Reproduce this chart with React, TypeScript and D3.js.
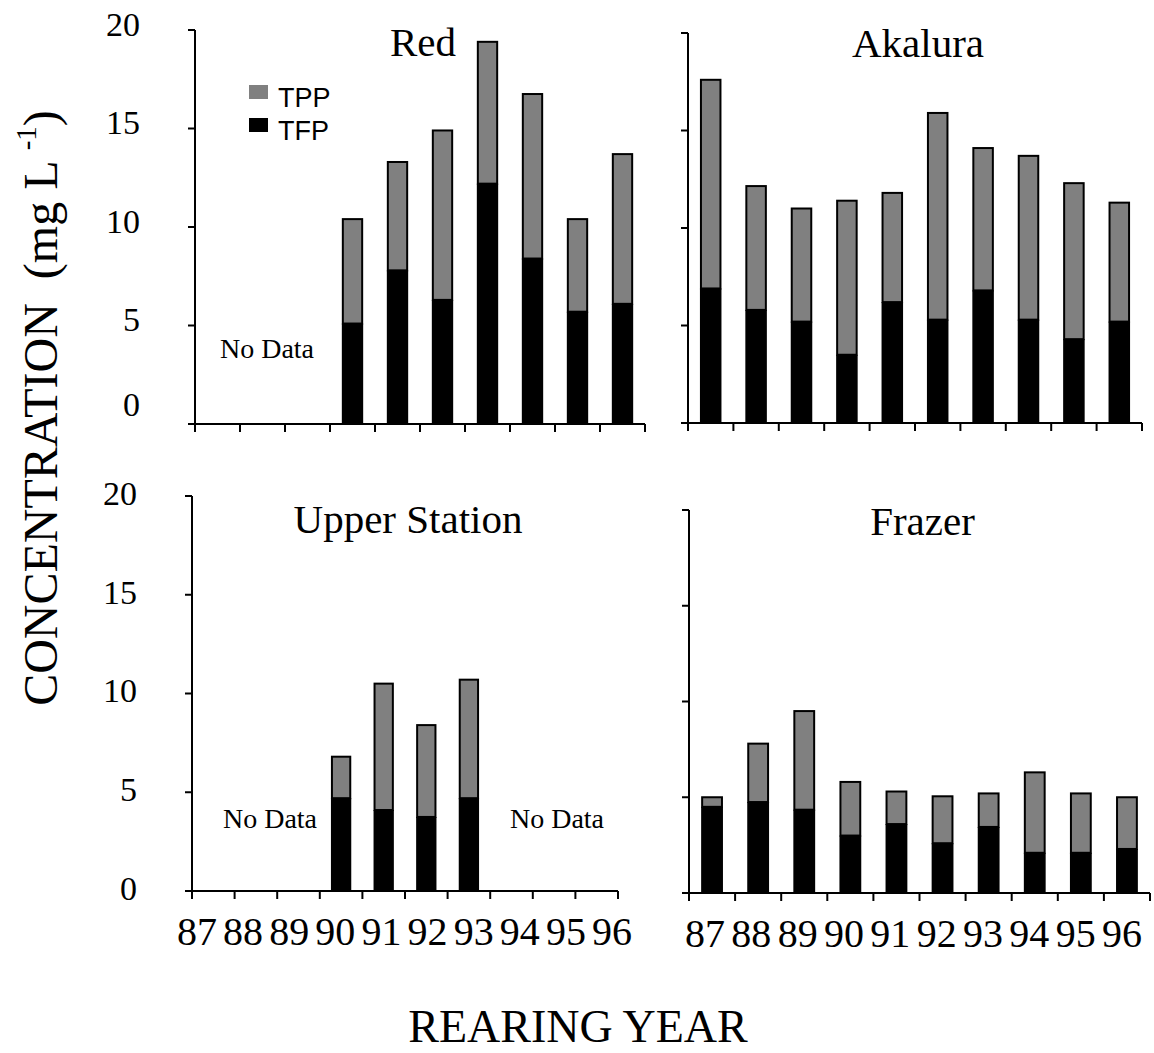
import React from "react";
import * as d3 from "d3";

const years = ["87", "88", "89", "90", "91", "92", "93", "94", "95", "96"];
const yTicks = [0, 5, 10, 15, 20];

// TFP = dissolved part (black), TPP = particulate part (grey) stacked on top
const redTFP = [null, null, null, 5.1, 7.8, 6.3, 12.2, 8.4, 5.7, 6.1];
const redTPP = [null, null, null, 5.3, 5.5, 8.6, 7.2, 8.35, 4.7, 7.6];

const akaluraTFP = [6.9, 5.8, 5.2, 3.5, 6.2, 5.3, 6.8, 5.3, 4.3, 5.2];
const akaluraTPP = [10.7, 6.35, 5.8, 7.9, 5.6, 10.6, 7.3, 8.4, 8.0, 6.1];

const upperTFP = [null, null, null, 4.7, 4.1, 3.75, 4.7, null, null, null];
const upperTPP = [null, null, null, 2.1, 6.4, 4.65, 6.0, null, null, null];

const frazerTFP = [4.5, 4.75, 4.35, 3.0, 3.6, 2.6, 3.45, 2.1, 2.1, 2.3];
const frazerTPP = [0.5, 3.05, 5.15, 2.8, 1.7, 2.45, 1.75, 4.2, 3.1, 2.7];

const SERIF = "'Liberation Serif', 'Times New Roman', serif";
const SANS = "'Liberation Sans', Arial, sans-serif";
const GREY = "#808080";

interface PanelProps {
  title: string;
  titleY: number;
  tfp: (number | null)[];
  tpp: (number | null)[];
  x0: number;
  x1: number;
  yTop: number;
  yBot: number;
  yLabels?: boolean;
  yLabelShift?: number;
  zeroShift?: number;
  xLabelRange?: [number, number];
  noData?: { x: number; y: number }[];
}

const Panel: React.FC<PanelProps> = ({
  title,
  titleY,
  tfp,
  tpp,
  x0,
  x1,
  yTop,
  yBot,
  yLabels = false,
  yLabelShift = 0,
  zeroShift = 0,
  xLabelRange,
  noData = [],
}) => {
  const x = d3
    .scaleBand()
    .domain(years)
    .range([x0, x1])
    .paddingInner(0.57)
    .paddingOuter(0.285);
  const y = d3.scaleLinear().domain([0, 20]).range([yBot, yTop]);
  const step = x.step();
  const tickXs = d3.range(years.length + 1).map((i) => x0 + i * step);
  const lx = xLabelRange
    ? d3.scalePoint().domain(years).range(xLabelRange)
    : null;

  return (
    <g>
      {/* bars */}
      {years.map((yr, i) => {
        const a = tfp[i];
        const b = tpp[i];
        if (a == null || b == null) return null;
        const bx = x(yr) || 0;
        const w = x.bandwidth();
        return (
          <g key={yr}>
            <rect
              x={bx}
              y={y(a + b)}
              width={w}
              height={y(a) - y(a + b)}
              fill={GREY}
              stroke="#000"
              strokeWidth={2}
            />
            <rect x={bx - 1} y={y(a)} width={w + 2} height={yBot - y(a)} fill="#000" />
          </g>
        );
      })}
      {/* y axis */}
      <line x1={x0} x2={x0} y1={yTop} y2={yBot} stroke="#000" strokeWidth={2} />
      {yTicks.map((t) => (
        <line key={t} x1={x0 - 7} x2={x0} y1={y(t)} y2={y(t)} stroke="#000" strokeWidth={2} />
      ))}
      {yLabels &&
        yTicks.map((t) => (
          <text
            key={t}
            x={x0 - 55}
            y={y(t) + (t === 0 ? zeroShift : yLabelShift)}
            dy="0.35em"
            textAnchor="end"
            fontFamily={SERIF}
            fontSize={34}
          >
            {t}
          </text>
        ))}
      {/* x axis */}
      <line x1={x0} x2={x1} y1={yBot} y2={yBot} stroke="#000" strokeWidth={2} />
      {tickXs.map((tx, i) => (
        <line key={i} x1={tx} x2={tx} y1={yBot} y2={yBot + 8} stroke="#000" strokeWidth={2} />
      ))}
      {lx &&
        years.map((yr) => (
          <text
            key={yr}
            x={lx(yr)}
            y={yBot + 54}
            textAnchor="middle"
            fontFamily={SERIF}
            fontSize={40}
          >
            {yr}
          </text>
        ))}
      <text
        x={(x0 + x1) / 2 + 3}
        y={titleY}
        textAnchor="middle"
        fontFamily={SERIF}
        fontSize={41}
      >
        {title}
      </text>
      {noData.map((p, i) => (
        <text key={i} x={p.x} y={p.y} textAnchor="middle" fontFamily={SERIF} fontSize={28}>
          No Data
        </text>
      ))}
    </g>
  );
};

export default function App() {
  const width = 1154;
  const height = 1053;
  return (
    <svg
      width={width}
      height={height}
      style={{ position: "absolute", left: 0, top: 0, background: "#fff" }}
    >
      <rect width={width} height={height} fill="#fff" />
      <Panel
        title="Red"
        titleY={56}
        tfp={redTFP}
        tpp={redTPP}
        x0={195}
        x1={645}
        yTop={30}
        yBot={424}
        yLabels
        yLabelShift={-6}
        zeroShift={-20}
        noData={[{ x: 267, y: 358 }]}
      />
      <Panel
        title="Akalura"
        titleY={57}
        tfp={akaluraTFP}
        tpp={akaluraTPP}
        x0={688}
        x1={1142}
        yTop={33}
        yBot={423}
      />
      <Panel
        title="Upper Station"
        titleY={533}
        tfp={upperTFP}
        tpp={upperTPP}
        x0={192}
        x1={618}
        yTop={496}
        yBot={891}
        yLabels
        yLabelShift={-3}
        zeroShift={-3}
        xLabelRange={[197, 612]}
        noData={[
          { x: 270, y: 828 },
          { x: 557, y: 828 },
        ]}
      />
      <Panel
        title="Frazer"
        titleY={535}
        tfp={frazerTFP}
        tpp={frazerTPP}
        x0={689}
        x1={1150}
        yTop={510}
        yBot={893}
        xLabelRange={[705, 1122]}
      />
      {/* legend */}
      <rect x={249} y={85} width={19} height={14} fill={GREY} />
      <text x={278} y={107} fontFamily={SANS} fontSize={27}>
        TPP
      </text>
      <rect x={249} y={118} width={19} height={14} fill="#000" />
      <text x={278} y={140} fontFamily={SANS} fontSize={27}>
        TFP
      </text>
      {/* axis titles */}
      <text
        transform="translate(57,408) rotate(-90)"
        textAnchor="middle"
        fontFamily={SERIF}
        fontSize={48}
      >
        {"CONCENTRATION\u00A0 (mg L "}
        <tspan fontSize={29} dy={-21}>
          -1
        </tspan>
        <tspan dy={21}>)</tspan>
      </text>
      <text x={578} y={1042} textAnchor="middle" fontFamily={SERIF} fontSize={46}>
        REARING YEAR
      </text>
    </svg>
  );
}
